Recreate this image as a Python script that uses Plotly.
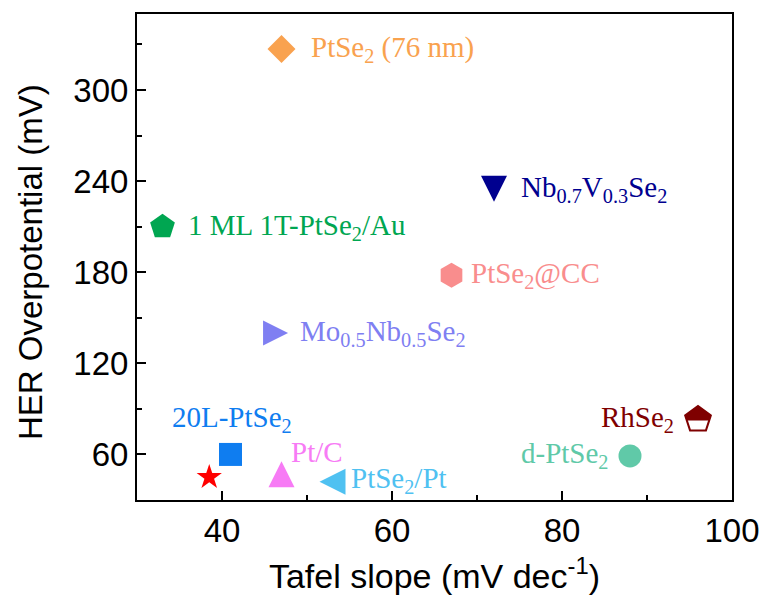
import plotly.graph_objects as go

# Catalysts compared by Tafel slope and HER overpotential
labels = [
    "PtSe<sub>2</sub> (76 nm)",
    "1 ML 1T-PtSe<sub>2</sub>/Au",
    "Nb<sub>0.7</sub>V<sub>0.3</sub>Se<sub>2</sub>",
    "PtSe<sub>2</sub>@CC",
    "Mo<sub>0.5</sub>Nb<sub>0.5</sub>Se<sub>2</sub>",
    "20L-PtSe<sub>2</sub>",
    "",
    "Pt/C",
    "PtSe<sub>2</sub>/Pt",
    "RhSe<sub>2</sub>",
    "d-PtSe<sub>2</sub>",
]
tafel_slope = [47, 33, 72, 67, 46.3, 41, 38.5, 47, 53, 96, 88]     # mV dec^-1
overpotential = [327, 210, 235, 178, 140, 60, 45, 47, 42, 83, 59]  # mV

x_ticks = [40, 60, 80, 100]
y_ticks = [60, 120, 180, 240, 300]

# Per-point styling: symbol, colour, size, rotation, standoff
colors = ["#F9A24F", "#00A651", "#00008F", "#F98D8D", "#7F7FF2", "#0F7DF0",
          "#FF0000", "#F77BF5", "#4FC1F1", "#7F0000", "#60C9A8"]
symbols = ["diamond", "pentagon", "arrow-down", "hexagon", "arrow-down", "square",
           "star", "arrow-down", "arrow-down", "pentagon", "circle"]
sizes = [21.5, 26, 26, 25, 25, 23, 19, 26, 26, 27, 23]
angles = [0, 0, 0, 0, 270, 0, 0, 180, 90, 0, 0]
standoffs = [0, 0, 13, 0, 12.5, 0, 0, 13, 13, 0, 0]

# Label placement relative to each marker (px)
label_anchor = ["left", "left", "left", "left", "left", "center",
                "left", "left", "left", "right", "right"]
label_dx = [27, 23, 25, 17, 22, 1, 0, 7, 16, -22, -20]
label_dy = [0, 0, 0, 0, 0, 35, 0, 22, 2, 1, 1]

fig = go.Figure()

for i in range(len(labels)):
    fig.add_trace(go.Scatter(
        x=[tafel_slope[i]], y=[overpotential[i]], mode="markers",
        marker=dict(symbol=symbols[i], color=colors[i], size=sizes[i],
                    angle=angles[i], standoff=standoffs[i],
                    line=dict(width=0)),
        showlegend=False, hoverinfo="skip",
    ))

# RhSe2: pentagon with only its upper half filled
rh = labels.index("RhSe<sub>2</sub>")
fig.add_trace(go.Scatter(
    x=[tafel_slope[rh]], y=[overpotential[rh]], mode="markers",
    marker=dict(symbol="square", color="white", size=30, standoff=16,
                line=dict(width=0)),
    showlegend=False, hoverinfo="skip",
))
fig.add_trace(go.Scatter(
    x=[tafel_slope[rh]], y=[overpotential[rh]], mode="markers",
    marker=dict(symbol="pentagon-open", color=colors[rh], size=sizes[rh],
                line=dict(width=2, color=colors[rh])),
    showlegend=False, hoverinfo="skip",
))

for i, text in enumerate(labels):
    if not text:
        continue
    fig.add_annotation(
        x=tafel_slope[i], y=overpotential[i], text=text, showarrow=False,
        xanchor=label_anchor[i], yanchor="middle",
        xshift=label_dx[i], yshift=label_dy[i],
        font=dict(family="Liberation Serif, Times New Roman, serif",
                  size=29, color=colors[i]),
    )

axis_font = dict(family="Liberation Sans, Arial, sans-serif", size=33, color="black")

# Vertical axis title
fig.add_annotation(
    xref="paper", yref="paper", x=0, y=0.5, xanchor="center", yanchor="middle",
    xshift=-107, yshift=-5, textangle=-90, showarrow=False,
    text="HER Overpotential (mV)", font=dict(axis_font, size=33),
)

fig.update_xaxes(
    range=[30, 100], tickvals=x_ticks, ticks="inside", ticklen=9, tickwidth=2,
    tickcolor="black", showline=True, linewidth=2, linecolor="black",
    mirror=True, showgrid=False, zeroline=False, tickfont=axis_font,
    minor=dict(dtick=10, tick0=0, ticks="inside", ticklen=5, tickwidth=2,
               tickcolor="black", showgrid=False),
    title=dict(text="Tafel slope (mV dec<sup>-1</sup>)", font=dict(axis_font, size=34),
               standoff=17),
)
fig.update_yaxes(
    range=[30, 350], tickvals=y_ticks, ticks="inside", ticklen=9, tickwidth=2,
    tickcolor="black", showline=True, linewidth=2, linecolor="black",
    mirror=True, showgrid=False, zeroline=False, tickfont=axis_font,
    minor=dict(dtick=30, tick0=0, ticks="inside", ticklen=5, tickwidth=2,
               tickcolor="black", showgrid=False),
)

fig.update_layout(
    width=772, height=601,
    margin=dict(l=137, r=32, t=12, b=99),
    plot_bgcolor="white", paper_bgcolor="white",
)

fig.write_html("out.html")
